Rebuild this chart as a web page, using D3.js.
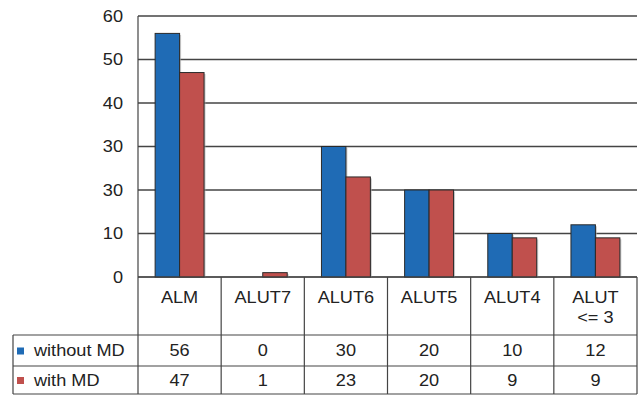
<!DOCTYPE html>
<html>
<head>
<meta charset="utf-8">
<script src="https://cdn.jsdelivr.net/npm/d3@7/dist/d3.min.js"></script>
<style>
  html, body { margin: 0; padding: 0; background: #fff; }
  svg text { font-family: "Liberation Sans", Arial, sans-serif; fill: #222; }
</style>
</head>
<body>
<svg id="chart" width="643" height="396"></svg>
<script>
// Category labels (multi-line labels split on "\n")
const categories = ["ALM", "ALUT7", "ALUT6", "ALUT5", "ALUT4", "ALUT\n<= 3"];
const seriesNames = ["without MD", "with MD"];
const withoutMD = [56, 0, 30, 20, 10, 12];
const withMD = [47, 1, 23, 20, 9, 9];
const seriesColors = ["#1F6BB5", "#C0504D"];
const yTickValues = [0, 10, 20, 30, 40, 50, 60];
const yTickLabels = ["0", "10", "30", "30", "40", "50", "60"];

const series = [withoutMD, withMD];

const svg = d3.select("#chart");

const plotLeft = 138, plotRight = 637, plotTop = 16, plotBottom = 277;
const tableLeft = 13, headerBottom = 335, row1Bottom = 366, tableBottom = 394;
const gridColor = "#444";
const fontSize = 16.5, stretch = 1.1;

// Text helper: slightly wide lettering, anchored at (tx, ty)
function addText(parent, tx, ty, str, anchor) {
  return parent.append("text")
    .attr("transform", `translate(${tx},${ty}) scale(${stretch},1)`)
    .attr("text-anchor", anchor || "start")
    .attr("dy", "0.35em")
    .attr("font-size", fontSize)
    .text(str);
}

const x = d3.scaleBand().domain(categories).range([plotLeft, plotRight]).paddingInner(0).paddingOuter(0);
const xInner = d3.scaleBand().domain(d3.range(series.length)).range([0, x.bandwidth()]).paddingInner(0).paddingOuter(0.7);
const y = d3.scaleLinear().domain([0, 60]).range([plotBottom, plotTop]);

// Horizontal gridlines
svg.append("g").selectAll("line").data(yTickValues).join("line")
  .attr("x1", plotLeft).attr("x2", plotRight)
  .attr("y1", d => y(d)).attr("y2", d => y(d))
  .attr("stroke", gridColor).attr("stroke-width", 1.4);

// Y tick labels
const yLab = svg.append("g");
yTickValues.forEach((v, i) => addText(yLab, 123, y(v), yTickLabels[i], "end"));

// Bars
const groups = svg.append("g").selectAll("g").data(categories).join("g")
  .attr("transform", d => `translate(${x(d)},0)`);

series.forEach((vals, s) => {
  // soft shadow
  groups.append("rect")
    .attr("x", (d, i) => xInner(s) + 1.5)
    .attr("y", (d, i) => y(vals[i]) + 1.5)
    .attr("width", xInner.bandwidth())
    .attr("height", (d, i) => Math.max(0, plotBottom - y(vals[i]) - 1.5))
    .attr("fill", "#aaa").attr("opacity", (d, i) => vals[i] > 0 ? 0.6 : 0);
  groups.append("rect")
    .attr("x", xInner(s))
    .attr("y", (d, i) => y(vals[i]))
    .attr("width", xInner.bandwidth())
    .attr("height", (d, i) => plotBottom - y(vals[i]))
    .attr("fill", seriesColors[s])
    .attr("stroke", (d, i) => vals[i] > 0 ? "#2a2a2a" : "none")
    .attr("stroke-width", 1);
});

// Data table lines
const lines = svg.append("g").attr("stroke", gridColor).attr("stroke-width", 1.2);
// y axis continuing through table
lines.append("line").attr("x1", plotLeft).attr("x2", plotLeft).attr("y1", plotTop).attr("y2", tableBottom);
// column separators and right edge
categories.forEach(c => {
  const xr = x(c) + x.bandwidth();
  lines.append("line").attr("x1", xr).attr("x2", xr).attr("y1", plotBottom).attr("y2", tableBottom);
});
// baseline
lines.append("line").attr("x1", plotLeft).attr("x2", plotRight).attr("y1", plotBottom).attr("y2", plotBottom);
// row lines
[headerBottom, row1Bottom, tableBottom].forEach(yy => {
  lines.append("line").attr("x1", tableLeft).attr("x2", plotRight).attr("y1", yy).attr("y2", yy);
});
lines.append("line").attr("x1", tableLeft).attr("x2", tableLeft).attr("y1", headerBottom).attr("y2", tableBottom);

// Category labels
const catG = svg.append("g");
categories.forEach(c => {
  c.split("\n").forEach((p, k) => {
    addText(catG, x(c) + x.bandwidth() / 2, 297 + k * 20.5, p, "middle");
  });
});

// Table rows: legend and values
const rowMid = [(headerBottom + row1Bottom) / 2, (row1Bottom + tableBottom) / 2];
series.forEach((vals, s) => {
  svg.append("rect")
    .attr("x", 17).attr("y", rowMid[s] - 3).attr("width", 7).attr("height", 7)
    .attr("fill", seriesColors[s]);
  const rowG = svg.append("g");
  addText(rowG, 34, rowMid[s], seriesNames[s], "start");
  categories.forEach((c, i) => addText(rowG, x(c) + x.bandwidth() / 2, rowMid[s], vals[i], "middle"));
});
</script>
</body>
</html>
